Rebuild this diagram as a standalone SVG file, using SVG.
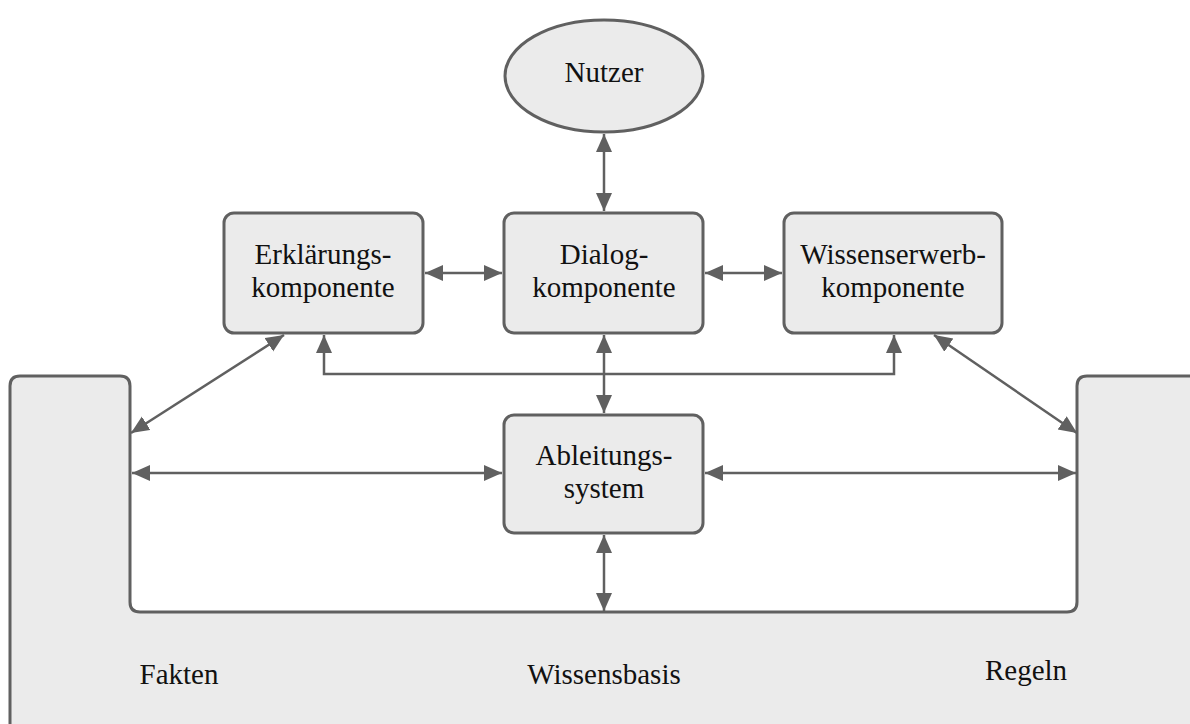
<svg xmlns="http://www.w3.org/2000/svg" width="1190" height="724" viewBox="0 0 1190 724">
<style>
.node{fill:#ebebeb;stroke:#606060;stroke-width:3}
.lbl{font-family:"Liberation Serif","DejaVu Serif",serif;font-size:29px;fill:#111;text-anchor:middle}
.con{fill:none;stroke:#606060;stroke-width:2.5;marker-start:url(#ah);marker-end:url(#ah)}
</style>
<defs>
<marker id="ah" markerUnits="userSpaceOnUse" markerWidth="20" markerHeight="18" refX="18" refY="8" orient="auto-start-reverse">
<path d="M0,0 L18,8 L0,16 Z" fill="#606060"/>
</marker>
</defs>
<g id="wissensbasis">
<path class="node" d="M10,386 Q10,376 20,376 L120,376 Q130,376 130,386 L130,602 Q130,612 140,612 L1067,612 Q1077,612 1077,602 L1077,386 Q1077,376 1087,376 L1200,376 L1200,735 L10,735 Z"/>
<text class="lbl" x="179" y="684">Fakten</text>
<text class="lbl" x="604" y="684">Wissensbasis</text>
<text class="lbl" x="1026" y="680">Regeln</text>
</g>
<g id="nutzer">
<ellipse class="node" cx="604" cy="76" rx="99" ry="56"/>
<text class="lbl" x="604" y="82">Nutzer</text>
</g>
<g id="erklaerung">
<rect class="node" x="224" y="213" width="199" height="120" rx="10"/>
<text class="lbl" x="323" y="264">Erklärungs-</text>
<text class="lbl" x="323" y="297">komponente</text>
</g>
<g id="dialog">
<rect class="node" x="504" y="213" width="199" height="120" rx="10"/>
<text class="lbl" x="604" y="264">Dialog-</text>
<text class="lbl" x="604" y="297">komponente</text>
</g>
<g id="wissenserwerb">
<rect class="node" x="784" y="213" width="218" height="120" rx="10"/>
<text class="lbl" x="893" y="264">Wissenserwerb-</text>
<text class="lbl" x="893" y="297">komponente</text>
</g>
<g id="ableitung">
<rect class="node" x="504" y="415" width="199" height="118" rx="10"/>
<text class="lbl" x="604" y="465">Ableitungs-</text>
<text class="lbl" x="604" y="498">system</text>
</g>
<g id="connectors">
<path class="con" d="M604,134 L604,211"/>
<path class="con" d="M425,273 L502,273"/>
<path class="con" d="M705,273 L782,273"/>
<path class="con" d="M604,335 L604,413"/>
<path class="con" d="M324,335 L324,374 L894,374 L894,335"/>
<path class="con" d="M131,433 L284,335"/>
<path class="con" d="M1077,433 L934,335"/>
<path class="con" d="M132,473 L502,473"/>
<path class="con" d="M705,473 L1076,473"/>
<path class="con" d="M604,535 L604,611"/>
</g>
</svg>
